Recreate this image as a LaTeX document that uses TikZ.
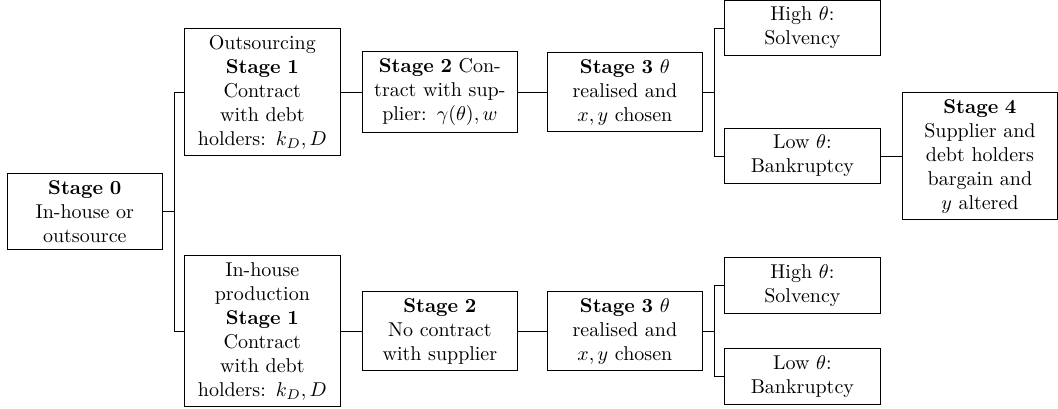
\documentclass[tikz,border=0pt]{standalone}
\begin{document}
\begin{tikzpicture}[
              grow'=right,
              level 1/.style={level distance=3.12cm,sibling distance=4.2cm},
              level 2/.style={level distance=3.12cm},
              level 3/.style={level distance=3.25cm},
              level 4/.style={level distance=3.12cm,sibling distance=1.6cm},
              level 5/.style={level distance=3.12cm},
              every node/.style={draw, text width=2.5cm, align=center},
              edge from parent path={(\tikzparentnode.east) -- +(5.5pt,0) |- (\tikzchildnode.west)}
            ]
              \useasboundingbox (-42.4pt,-98.25pt) rectangle (486.6pt,105.75pt);
              \node (s0) {\textbf{Stage~0} In-house or outsource}
              child {node (out1) {Outsourcing\\ \textbf{Stage~1} Contract with debt holders: $k_D, D$}
                child {node (out2) {\textbf{Stage~2} Con-\\tract with sup-\\plier: $\gamma(\theta), w$}
                  child {node (out3) {\textbf{Stage~3} $\theta$ realised and $x, y$ chosen}
                    child [sibling distance=2.25cm] {node (outhigh) {High $\theta$:\\ Solvency}}
                    child [sibling distance=2.25cm] {node (outlow) {Low $\theta$:\\ Bankruptcy}
                      child {node (out4) {\textbf{Stage~4} Supplier and debt holders bargain and $y$ altered}}
                    }
                  }
                }
              }
              child {node (in1) {In-house production\\ \textbf{Stage~1} Contract with debt holders: $k_D, D$}
                child {node (in2) {\textbf{Stage~2}\\ No contract with supplier}
                  child {node (in3) {\textbf{Stage~3} $\theta$ realised and $x, y$ chosen}
                    child {node (inhigh) {High $\theta$:\\ Solvency}}
                    child {node (inlow) {Low $\theta$:\\ Bankruptcy}}
                  }
                }
              };
            \end{tikzpicture}
\end{document}
